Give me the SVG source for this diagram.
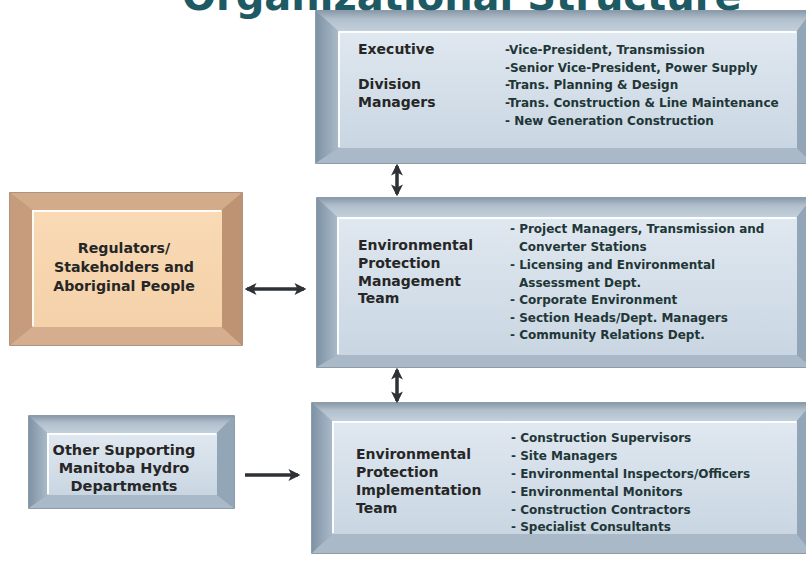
<svg xmlns="http://www.w3.org/2000/svg" width="806" height="561" viewBox="0 0 806 561">
  <style>
    .title { font-family: "DejaVu Sans", Verdana, sans-serif; font-weight: bold; font-size: 40px; fill: #1d5a63; }
    .lbl { font-family: "DejaVu Sans", Verdana, sans-serif; font-weight: bold; font-size: 14px; fill: #262626; }
    .item { font-family: "DejaVu Sans", Verdana, sans-serif; font-weight: bold; font-size: 12px; fill: #213636; }
    .side { font-family: "DejaVu Sans", Verdana, sans-serif; font-weight: bold; font-size: 14.2px; fill: #262626; text-anchor: middle; }
    .side2 { font-family: "DejaVu Sans", Verdana, sans-serif; font-weight: bold; font-size: 14.5px; fill: #262626; text-anchor: middle; }
    .b-frame { fill: #8c9eb0; stroke: #6a7b8c; stroke-width: 1.5; }
    .b-top { fill: url(#bTop); }
    .b-left { fill: url(#bLeft); }
    .b-bottom { fill: #a9b9c8; }
    .b-right { fill: #93a6b8; }
    .b-face { fill: url(#bFace); }
    .o-frame { fill: #b48a6c; stroke: #94705a; stroke-width: 1.5; }
    .o-top { fill: #d2ab8b; }
    .o-left { fill: #c69c7c; }
    .o-bottom { fill: #d5ae90; }
    .o-right { fill: #bd9373; }
    .o-face { fill: url(#oFace); }
    .hl { fill: none; stroke: #ffffff; stroke-width: 2; stroke-opacity: 0.9; }
    .conn { fill: none; stroke: #2e3236; stroke-width: 3.5; }
  </style>
  <defs>
    <linearGradient id="bFace" x1="0" y1="0" x2="0" y2="1">
      <stop offset="0" stop-color="#e0e8f0"/>
      <stop offset="1" stop-color="#c9d6e2"/>
    </linearGradient>
    <linearGradient id="bTop" x1="0" y1="0" x2="0" y2="1">
      <stop offset="0" stop-color="#8a9aaa"/>
      <stop offset="0.4" stop-color="#b1bfcc"/>
      <stop offset="1" stop-color="#c3d0dc"/>
    </linearGradient>
    <linearGradient id="bLeft" x1="0" y1="0" x2="1" y2="0">
      <stop offset="0" stop-color="#7f93a6"/>
      <stop offset="1" stop-color="#a9b9c8"/>
    </linearGradient>
    <linearGradient id="oFace" x1="0" y1="0" x2="0" y2="1">
      <stop offset="0" stop-color="#f9dab5"/>
      <stop offset="1" stop-color="#f4d1a9"/>
    </linearGradient>
    <marker id="ah" viewBox="0 0 10 10" refX="8" refY="5" markerWidth="3.4" markerHeight="3.4" orient="auto-start-reverse">
      <path d="M0,0 L10,5 L0,10 L2.5,5 z" fill="#2e3236"/>
    </marker>
  </defs>

  <text class="title" x="182" y="10">Organizational Structure</text>

  <g id="n-executive">
    <rect class="b-frame" x="316" y="11" width="496" height="152"/>
    <polygon class="b-top" points="316,11 812,11 797,31 338,31"/>
    <polygon class="b-left" points="316,11 338,31 338,148 316,163"/>
    <polygon class="b-bottom" points="316,163 338,148 797,148 812,163"/>
    <polygon class="b-right" points="812,11 812,163 797,148 797,31"/>
    <rect class="b-face" x="338" y="31" width="459" height="117"/>
    <polyline class="hl" points="339,147 339,32 796,32"/>
    <text class="lbl" x="358" y="54">Executive</text>
    <text class="lbl" x="358" y="89">Division</text>
    <text class="lbl" x="358" y="107">Managers</text>
    <text class="item" x="505" y="54">-Vice-President, Transmission</text>
    <text class="item" x="505" y="72">-Senior Vice-President, Power Supply</text>
    <text class="item" x="505" y="89">-Trans. Planning &amp; Design</text>
    <text class="item" x="505" y="107">-Trans. Construction &amp; Line Maintenance</text>
    <text class="item" x="505" y="125">- New Generation Construction</text>
  </g>

  <g id="n-management">
    <rect class="b-frame" x="317" y="198" width="495" height="169"/>
    <polygon class="b-top" points="317,198 812,198 797,217 337,217"/>
    <polygon class="b-left" points="317,198 337,217 337,355 317,367"/>
    <polygon class="b-bottom" points="317,367 337,355 797,355 812,367"/>
    <polygon class="b-right" points="812,198 812,367 797,355 797,217"/>
    <rect class="b-face" x="337" y="217" width="460" height="138"/>
    <polyline class="hl" points="338,354 338,218 796,218"/>
    <text class="lbl" x="358" y="250">Environmental</text>
    <text class="lbl" x="358" y="268">Protection</text>
    <text class="lbl" x="358" y="286">Management</text>
    <text class="lbl" x="358" y="303">Team</text>
    <text class="item" x="510" y="233">- Project Managers, Transmission and</text>
    <text class="item" x="519" y="251">Converter Stations</text>
    <text class="item" x="510" y="269">- Licensing and Environmental</text>
    <text class="item" x="519" y="287">Assessment Dept.</text>
    <text class="item" x="510" y="304">- Corporate Environment</text>
    <text class="item" x="510" y="322">- Section Heads/Dept. Managers</text>
    <text class="item" x="510" y="339">- Community Relations Dept.</text>
  </g>

  <g id="n-implementation">
    <rect class="b-frame" x="312" y="403" width="500" height="150"/>
    <polygon class="b-top" points="312,403 812,403 797,421 332,421"/>
    <polygon class="b-left" points="312,403 332,421 332,534 312,553"/>
    <polygon class="b-bottom" points="312,553 332,534 797,534 812,553"/>
    <polygon class="b-right" points="812,403 812,553 797,534 797,421"/>
    <rect class="b-face" x="332" y="421" width="465" height="113"/>
    <polyline class="hl" points="333,533 333,422 796,422"/>
    <text class="lbl" x="356" y="459">Environmental</text>
    <text class="lbl" x="356" y="477">Protection</text>
    <text class="lbl" x="356" y="495">Implementation</text>
    <text class="lbl" x="356" y="513">Team</text>
    <text class="item" x="511" y="442">- Construction Supervisors</text>
    <text class="item" x="511" y="460">- Site Managers</text>
    <text class="item" x="511" y="478">- Environmental Inspectors/Officers</text>
    <text class="item" x="511" y="496">- Environmental Monitors</text>
    <text class="item" x="511" y="514">- Construction Contractors</text>
    <text class="item" x="511" y="531">- Specialist Consultants</text>
  </g>

  <g id="n-regulators">
    <rect class="o-frame" x="10" y="193" width="232" height="152"/>
    <polygon class="o-top" points="10,193 242,193 222,210 32,210"/>
    <polygon class="o-left" points="10,193 32,210 32,327 10,345"/>
    <polygon class="o-bottom" points="10,345 32,327 222,327 242,345"/>
    <polygon class="o-right" points="242,193 242,345 222,327 222,210"/>
    <rect class="o-face" x="32" y="210" width="190" height="117"/>
    <polyline class="hl" points="33,326 33,211 221,211"/>
    <text class="side" x="124" y="253">Regulators/</text>
    <text class="side" x="124" y="272">Stakeholders and</text>
    <text class="side" x="124" y="291">Aboriginal People</text>
  </g>

  <g id="n-support">
    <rect class="b-frame" x="29" y="416" width="205" height="92"/>
    <polygon class="b-top" points="29,416 234,416 217,433 47,433"/>
    <polygon class="b-left" points="29,416 47,433 47,495 29,508"/>
    <polygon class="b-bottom" points="29,508 47,495 217,495 234,508"/>
    <polygon class="b-right" points="234,416 234,508 217,495 217,433"/>
    <rect class="b-face" x="47" y="433" width="170" height="62"/>
    <polyline class="hl" points="48,494 48,434 216,434"/>
    <text class="side2" x="124" y="455">Other Supporting</text>
    <text class="side2" x="124" y="473">Manitoba Hydro</text>
    <text class="side2" x="124" y="491">Departments</text>
  </g>

  <g id="connectors">
    <line class="conn" x1="397" y1="166" x2="397" y2="194" marker-start="url(#ah)" marker-end="url(#ah)"/>
    <line class="conn" x1="397" y1="370" x2="397" y2="401" marker-start="url(#ah)" marker-end="url(#ah)"/>
    <line class="conn" x1="247" y1="289" x2="304" y2="289" marker-start="url(#ah)" marker-end="url(#ah)"/>
    <line class="conn" x1="245" y1="475" x2="298" y2="475" marker-end="url(#ah)"/>
  </g>
</svg>
